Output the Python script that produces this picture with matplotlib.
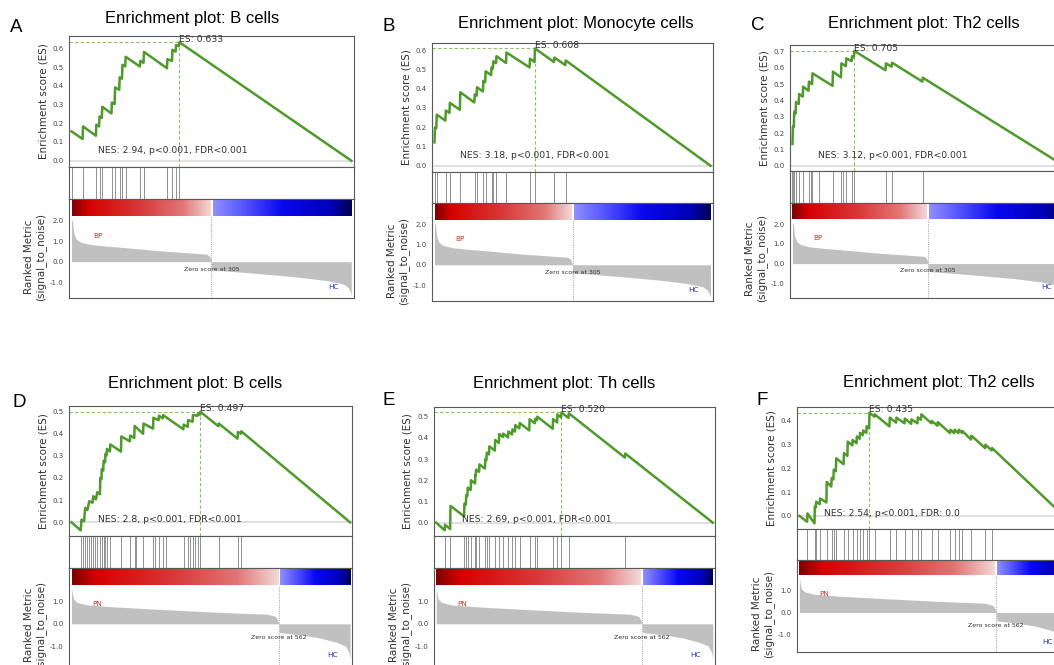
import numpy as np
import matplotlib
matplotlib.use('Agg')
import matplotlib.pyplot as plt
from matplotlib.colors import LinearSegmentedColormap
from matplotlib.ticker import FormatStrFormatter

plt.rcParams['font.family'] = ['DejaVu Sans']

W, H = 1054, 665

# ranked metric (signal_to_noise), BP vs HC
bp_n = 610
bp_zero = 305
bp_rank = [0, 2, 4, 6, 11, 20, 41, 78, 135, 193, 251, 295, 301, 304, 305, 306, 353, 425, 498, 556, 592, 603, 608, 610]
bp_metric = [2.05, 2.0, 1.54, 1.3, 1.08, 0.95, 0.84, 0.76, 0.65, 0.53, 0.44, 0.37, 0.27, 0.08, 0.0, -0.4, -0.48,
             -0.61, -0.76, -0.92, -1.08, -1.25, -1.46, -1.62]

# ranked metric, PN vs HC
pn_n = 755
pn_zero = 562
pn_rank = [0, 3, 6, 15, 41, 122, 258, 394, 530, 553, 559, 562, 564, 621, 675, 720, 743, 752, 755]
pn_metric = [1.6, 1.3, 1.1, 0.96, 0.85, 0.75, 0.63, 0.52, 0.43, 0.33, 0.15, 0.0, -0.39, -0.49, -0.64, -0.84,
             -1.0, -1.3, -1.6]

# running enrichment scores (rank, ES) and hit positions
a_es_rank = [0, 24, 25, 53, 54, 60, 61, 66, 67, 87, 88, 94, 95, 104, 105, 110, 111, 117, 118, 149, 150, 157, 158,
             208, 209, 219, 220, 227, 228, 234, 235, 610]
a_es = [0.156, 0.116, 0.183, 0.133, 0.192, 0.183, 0.236, 0.228, 0.288, 0.252, 0.311, 0.302, 0.391, 0.379, 0.445,
        0.438, 0.512, 0.503, 0.555, 0.503, 0.533, 0.523, 0.581, 0.494, 0.542, 0.533, 0.592, 0.583, 0.617, 0.612,
        0.633, 0.0]
a_hits = [2, 25, 54, 61, 67, 88, 95, 105, 111, 118, 150, 158, 209, 220, 228, 235]

b_es_rank = [0, 1, 4, 5, 24, 25, 33, 34, 56, 57, 88, 89, 93, 94, 107, 108, 112, 113, 125, 126, 129, 130, 136, 137,
             158, 159, 210, 211, 221, 222, 264, 265, 289, 290, 610]
b_es = [0.121, 0.199, 0.195, 0.265, 0.234, 0.286, 0.274, 0.326, 0.29, 0.381, 0.328, 0.37, 0.363, 0.407, 0.385,
        0.44, 0.433, 0.49, 0.47, 0.51, 0.505, 0.542, 0.532, 0.568, 0.533, 0.587, 0.51, 0.555, 0.538, 0.608, 0.538,
        0.561, 0.522, 0.546, 0.0]
b_hits = [1, 5, 25, 34, 57, 89, 94, 108, 113, 126, 130, 137, 159, 211, 222, 265, 290]

c_es_rank = [0, 1, 3, 4, 7, 8, 14, 15, 23, 24, 36, 37, 44, 45, 90, 91, 109, 110, 120, 121, 133, 134, 138, 139,
             209, 210, 223, 224, 292, 293, 610]
c_es = [0.133, 0.24, 0.236, 0.332, 0.321, 0.391, 0.379, 0.44, 0.424, 0.485, 0.46, 0.516, 0.501, 0.567, 0.49,
        0.577, 0.542, 0.628, 0.611, 0.659, 0.642, 0.672, 0.665, 0.705, 0.586, 0.628, 0.608, 0.632, 0.516, 0.54, 0.0]
c_hits = [0, 2, 4, 8, 15, 24, 37, 41, 45, 59, 91, 110, 113, 121, 134, 139, 210, 224, 293]

d_es_rank = [0, 25, 27, 34, 37, 43, 48, 57, 59, 66, 70, 77, 78, 81, 82, 86, 87, 91, 92, 95, 96, 104, 105, 134, 135,
             158, 159, 170, 171, 194, 195, 221, 222, 236, 237, 247, 248, 303, 304, 315, 316, 328, 329, 342, 343, 348,
             349, 398, 399, 450, 451, 459, 460, 755]
d_es = [0.0, -0.036, 0.012, 0.005, 0.065, 0.055, 0.095, 0.088, 0.118, 0.103, 0.136, 0.126, 0.2, 0.194, 0.239,
        0.232, 0.277, 0.27, 0.308, 0.3, 0.33, 0.318, 0.35, 0.318, 0.386, 0.364, 0.39, 0.379, 0.433, 0.398, 0.444,
        0.421, 0.47, 0.459, 0.479, 0.467, 0.482, 0.418, 0.439, 0.429, 0.459, 0.452, 0.482, 0.479, 0.49, 0.484,
        0.497, 0.432, 0.444, 0.376, 0.406, 0.398, 0.409, 0.0]
d_hits = [27, 32, 37, 43, 48, 53, 59, 64, 70, 78, 82, 87, 92, 96, 105, 135, 159, 171, 174, 195, 222, 227, 237, 248,
          256, 304, 316, 321, 329, 334, 343, 349, 399, 451, 460]

e_es_rank = [0, 23, 24, 38, 39, 76, 77, 81, 82, 85, 86, 94, 95, 106, 107, 108, 109, 117, 118, 133, 134, 137, 138,
             144, 145, 160, 161, 171, 172, 182, 183, 196, 197, 207, 208, 215, 216, 227, 228, 254, 255, 269, 270, 275,
             276, 318, 319, 330, 331, 341, 342, 361, 362, 515, 516, 755]
e_es = [0.0, -0.036, -0.01, -0.03, 0.079, 0.03, 0.09, 0.085, 0.13, 0.126, 0.165, 0.154, 0.2, 0.185, 0.225, 0.223,
        0.25, 0.24, 0.275, 0.255, 0.3, 0.295, 0.33, 0.322, 0.36, 0.34, 0.39, 0.376, 0.418, 0.404, 0.42, 0.402, 0.43,
        0.416, 0.44, 0.43, 0.46, 0.445, 0.47, 0.435, 0.488, 0.469, 0.49, 0.483, 0.5, 0.443, 0.488, 0.473, 0.51,
        0.496, 0.52, 0.494, 0.516, 0.307, 0.326, 0.0]
e_hits = [24, 39, 77, 82, 86, 95, 107, 109, 118, 134, 138, 145, 161, 172, 183, 197, 208, 216, 228, 255, 270, 276,
          319, 331, 342, 362, 516]

f_es_rank = [0, 22, 23, 43, 44, 47, 48, 58, 59, 77, 78, 91, 92, 97, 98, 104, 105, 126, 127, 137, 138, 151, 152,
             163, 164, 172, 173, 181, 182, 191, 192, 199, 200, 214, 215, 257, 258, 276, 277, 300, 301, 319, 320, 337,
             338, 347, 348, 377, 378, 394, 395, 430, 431, 442, 443, 454, 455, 464, 465, 490, 491, 530, 531, 549, 550,
             755]
f_es = [0.0, -0.024, 0.011, -0.031, 0.04, 0.036, 0.06, 0.05, 0.074, 0.057, 0.143, 0.124, 0.16, 0.154, 0.195, 0.188,
        0.243, 0.218, 0.265, 0.253, 0.313, 0.297, 0.32, 0.306, 0.335, 0.325, 0.35, 0.34, 0.36, 0.35, 0.378, 0.369,
        0.435, 0.418, 0.428, 0.377, 0.414, 0.393, 0.414, 0.39, 0.41, 0.388, 0.407, 0.39, 0.415, 0.405, 0.428, 0.39,
        0.4, 0.38, 0.395, 0.349, 0.363, 0.349, 0.363, 0.349, 0.363, 0.35, 0.358, 0.322, 0.338, 0.286, 0.3, 0.276,
        0.286, 0.0]
f_hits = [23, 44, 48, 59, 78, 92, 98, 105, 127, 138, 152, 164, 173, 182, 192, 200, 215, 258, 277, 301, 320, 338,
          348, 378, 395, 431, 443, 455, 465, 491, 531, 550]

letters = ['A', 'B', 'C', 'D', 'E', 'F']
titles = ['Enrichment plot: B cells', 'Enrichment plot: Monocyte cells', 'Enrichment plot: Th2 cells',
          'Enrichment plot: B cells', 'Enrichment plot: Th cells', 'Enrichment plot: Th2 cells']
nes_texts = ['NES: 2.94, p<0.001, FDR<0.001', 'NES: 3.18, p<0.001, FDR<0.001', 'NES: 3.12, p<0.001, FDR<0.001',
             'NES: 2.8, p<0.001, FDR<0.001', 'NES: 2.69, p<0.001, FDR<0.001', 'NES: 2.54, p<0.001, FDR: 0.0']

red_cmap = LinearSegmentedColormap.from_list(
    'pos', [(0, '#7d0000'), (0.12, '#d60000'), (0.5, '#d83a3a'), (0.8, '#e27676'), (1, '#f3d8d8')])
blue_cmap = LinearSegmentedColormap.from_list(
    'neg', [(0, '#9090ff'), (0.2, '#5a5aff'), (0.5, '#0808f0'), (0.85, '#0000b8'), (1, '#000050')])

# pixel layout of each screenshot panel: es left/right/top/bottom, hits bottom, rank bottom
layout = [
    dict(box=(69.3, 353.5, 36, 167, 199, 298), es_lim=(-0.034, 0.666), es_max=0.6, rank_lim=(-1.77, 3.06),
         bar=(2.23, 3.01), letter=(10, 31.7), title=(192, 23)),
    dict(box=(432.3, 712.7, 42.7, 171.7, 203.3, 301), es_lim=(-0.031, 0.638), es_max=0.6, rank_lim=(-1.79, 3.04),
         bar=(2.2, 3.0), letter=(382.7, 30.7), title=(576.3, 28)),
    dict(box=(790.3, 1066, 45.3, 170.7, 202.7, 297.7), es_lim=(-0.031, 0.739), es_max=0.7,
         rank_lim=(-1.73, 3.09), bar=(2.25, 3.05), letter=(750.7, 30), title=(923.7, 28)),
    dict(box=(69.3, 352.3, 405.7, 535.7, 568.3, 665.5), es_lim=(-0.060, 0.524), es_max=0.5,
         rank_lim=(-1.87, 2.49), bar=(1.75, 2.45), letter=(12.3, 406.7), title=(195.3, 388)),
    dict(box=(434, 715, 406.7, 536, 568.3, 665.5), es_lim=(-0.063, 0.547), es_max=0.5, rank_lim=(-1.87, 2.49),
         bar=(1.75, 2.45), letter=(382.7, 405), title=(564.3, 388)),
    dict(box=(797.3, 1066, 406.7, 529.3, 560, 652.3), es_lim=(-0.056, 0.460), es_max=0.4, rank_lim=(-1.85, 2.44),
         bar=(1.74, 2.43), letter=(756, 405), title=(939.3, 387)),
]

panels = [
    (a_es_rank, a_es, a_hits, 'bp'), (b_es_rank, b_es, b_hits, 'bp'), (c_es_rank, c_es, c_hits, 'bp'),
    (d_es_rank, d_es, d_hits, 'pn'), (e_es_rank, e_es, e_hits, 'pn'), (f_es_rank, f_es, f_hits, 'pn'),
]

datasets = {
    'bp': dict(n=bp_n, zero=bp_zero, rank=bp_rank, metric=bp_metric, pos='BP', ticks=[2.0, 1.0, 0.0, -1.0]),
    'pn': dict(n=pn_n, zero=pn_zero, rank=pn_rank, metric=pn_metric, pos='PN', ticks=[1.0, 0.0, -1.0]),
}

fig = plt.figure(figsize=(W / 100, H / 100), dpi=100)
fig.patch.set_facecolor('white')


def rect(x0, x1, y0, y1):
    return [x0 / W, 1 - y1 / H, (x1 - x0) / W, (y1 - y0) / H]


def style(ax):
    for s in ax.spines.values():
        s.set_color('#5a5a5a')
        s.set_linewidth(0.8)
    ax.tick_params(length=0, pad=4, labelsize=5, labelcolor='#444444')


green = '#4e9a2a'
dash = '#8cc063'

for i, (es_rank, es_vals, hits, key) in enumerate(panels):
    lo = layout[i]
    ds = datasets[key]
    n, zero = ds['n'], ds['zero']
    x0, x1, y_top, y_es, y_hit, y_rank = lo['box']
    xlim = (-0.008 * n, 1.008 * n)

    # enrichment score
    ax1 = fig.add_axes(rect(x0, x1, y_top, y_es))
    style(ax1)
    ax1.axhline(0, color='#dddddd', lw=1.3, zorder=1)
    ax1.plot(es_rank, es_vals, color=green, lw=1.8, zorder=3)
    k = int(np.argmax(es_vals))
    pr, pe = es_rank[k], es_vals[k]
    ax1.hlines(pe, xlim[0], pr, colors=dash, linestyles=(0, (3, 2)), lw=0.8, zorder=2)
    ax1.vlines(pr, lo['es_lim'][0], pe, colors=dash, linestyles=(0, (3, 2)), lw=0.8, zorder=2)
    ax1.annotate('ES: %.3f' % pe, (pr, pe), xytext=(0, 2), textcoords='offset points', ha='left', va='center',
                 fontsize=6.7, color='#333333')
    ax1.text(0.1, 0.125, nes_texts[i], transform=ax1.transAxes, ha='left', va='center', fontsize=6.7,
             color='#333333')
    ax1.set_xlim(xlim)
    ax1.set_ylim(lo['es_lim'])
    ax1.set_yticks(np.arange(0, lo['es_max'] + 0.01, 0.1))
    ax1.yaxis.set_major_formatter(FormatStrFormatter('%.1f'))
    ax1.set_xticks([])

    # hits
    ax2 = fig.add_axes(rect(x0, x1, y_es, y_hit))
    style(ax2)
    ax2.vlines(hits, 0, 1, colors='black', lw=0.5, alpha=0.6)
    ax2.set_xlim(xlim)
    ax2.set_ylim(0, 1)
    ax2.set_xticks([])
    ax2.set_yticks([])

    # ranked metric with colour bar
    ax3 = fig.add_axes(rect(x0, x1, y_hit, y_rank))
    style(ax3)
    gap = 0.004 * n
    grad = np.linspace(0, 1, 256).reshape(1, -1)
    b0, b1 = lo['bar']
    ax3.imshow(grad, cmap=red_cmap, aspect='auto', extent=(0, zero - gap, b0, b1), interpolation='bilinear')
    ax3.imshow(grad, cmap=blue_cmap, aspect='auto', extent=(zero + gap, n, b0, b1), interpolation='bilinear')
    ax3.fill_between(ds['rank'], ds['metric'], 0, color='#c0c0c0', lw=0)
    ax3.vlines(zero, lo['rank_lim'][0], b0, colors='#b0b0b0', linestyles=(0, (1, 1)), lw=0.8)
    ax3.text(zero, 0.29, 'Zero score at %d' % zero, transform=ax3.get_xaxis_transform(), ha='center',
             va='center', fontsize=4.5, color='#333333')
    ax3.text(0.1, 0.63, ds['pos'], transform=ax3.transAxes, ha='center', va='center', fontsize=5.2,
             color='#c0392b')
    ax3.text(0.93, 0.11, 'HC', transform=ax3.transAxes, ha='center', va='center', fontsize=5.2, color='#2b2bb0')
    ax3.set_xlim(xlim)
    ax3.set_ylim(lo['rank_lim'])
    ax3.set_yticks(ds['ticks'])
    ax3.yaxis.set_major_formatter(FormatStrFormatter('%.1f'))
    ax3.set_xticks([])

    # axis labels (the rank label sits below the colour bar), letters and titles
    fig.text((x0 - 26) / W, 1 - (y_top + y_es) / 2 / H, 'Enrichment score (ES)', rotation=90, ha='center',
             va='center', fontsize=7.5, color='#333333')
    r0, r1 = lo['rank_lim']
    bar_px = y_hit + (y_rank - y_hit) * (r1 - b0) / (r1 - r0)
    fig.text((x0 - 34) / W, 1 - (bar_px + y_rank) / 2 / H, 'Ranked Metric\n(signal_to_noise)', rotation=90,
             ha='center', va='center', fontsize=7.5, color='#333333', linespacing=1.1)
    lx, ly = lo['letter']
    fig.text(lx / W, 1 - ly / H, letters[i], family='Liberation Sans', fontsize=13.5, va='baseline', ha='left')
    tx, ty = lo['title']
    fig.text(tx / W, 1 - ty / H, titles[i], family='Liberation Sans', fontsize=12, va='baseline', ha='center')

fig.savefig('out.png', dpi=100, facecolor='white')
